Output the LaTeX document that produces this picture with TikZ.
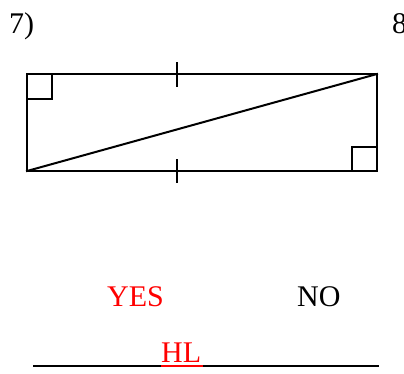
\documentclass[tikz,border=0pt]{standalone}
\usepackage{fontspec}
\setmainfont{Liberation Serif}
\begin{document}
\begin{tikzpicture}[x=1pt,y=-1pt,
  edge/.style={line width=2pt,line cap=rect},
  lbl/.style={anchor=base west,inner sep=0pt,font=\fontsize{30}{30}\selectfont}]
\useasboundingbox (0,0) rectangle (404,373);
\coordinate (A) at (27,74);
\coordinate (B) at (377,74);
\coordinate (C) at (377,171);
\coordinate (D) at (27,171);
\draw[edge] (A) -- (B) -- (C) -- (D) -- cycle;
\draw[edge] (D) -- (B);
\draw[line width=1.6pt] (27,99) -- (52,99) -- (52,74);
\draw[line width=1.6pt] (352,171) -- (352,147) -- (377,147);
\draw[line width=1.6pt] (177,62) -- (177,87);
\draw[line width=1.6pt] (177,159) -- (177,183);
\node[lbl] (n7) at (9,33) {7)};
\node[lbl] (n8) at (392,33) {8};
\node[lbl,text=red] (yes) at (107,306) {YES};
\node[lbl] (no) at (297,306) {NO};
\node[lbl,text=red] (hl) at (161,362) {HL};
\draw[line width=1.3pt] (33,366) -- (161,366);
\draw[line width=1.3pt,red] (161,366) -- (203,366);
\draw[line width=1.3pt] (203,366) -- (379,366);
\end{tikzpicture}
\end{document}
